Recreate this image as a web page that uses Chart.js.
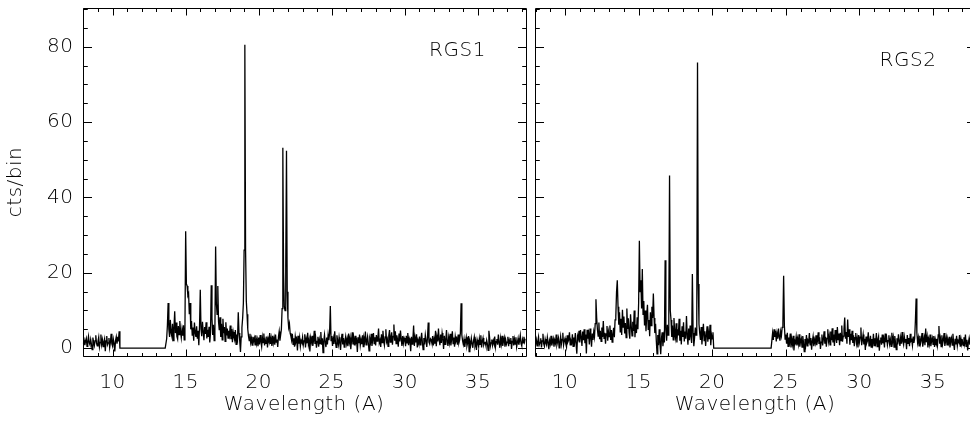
<!DOCTYPE html>
<html><head><meta charset="utf-8">
<script src="https://cdn.jsdelivr.net/npm/chart.js@4.4.1/dist/chart.umd.min.js"></script>
<style>
html,body{margin:0;padding:0;background:#fff;overflow:hidden;width:970px;height:423px;}
#c1{position:absolute;left:0;top:0;}
#c2{position:absolute;left:530px;top:0;}
</style></head><body>
<canvas id="c1" width="530" height="423"></canvas>
<canvas id="c2" width="460" height="423"></canvas>
<script>
// ---- data (counts per 0.05 A bin, starting at 8.00 A) ----
const binStart = 8.0;
const binWidth = 0.05;
const xTicks = [10, 15, 20, 25, 30, 35];
const yTicks = [0, 20, 40, 60, 80];
const panelLabels = ['RGS1', 'RGS2'];
const xTitle = 'Wavelength (A)';
const yTitle = 'cts/bin';

const rgs1Counts = [
 1.2,2.1,0.8,1.9,2.6,0.5,1.7,3.1,1.4,0.9,2.3,1.1,-0.4,2.8,1.6,0.7,2.0,3.4,1.3,0.6,
 1.8,2.9,0.3,1.5,3.6,1.0,2.2,0.4,1.7,2.5,-0.8,1.9,3.2,0.9,1.4,2.7,0.2,1.6,3.8,1.1,
 0.5,2.4,1.3,-0.9,2.0,3.0,1.2,2.6,2.2,4.5,0,0,0,0,0,0,0,0,0,0,
 0,0,0,0,0,0,0,0,0,0,0,0,0,0,0,0,0,0,0,0,
 0,0,0,0,0,0,0,0,0,0,0,0,0,0,0,0,0,0,0,0,
 0,0,0,0,0,0,0,0,0,0,0,0,0,0,2.5,6.0,12.0,5.0,3.0,7.5,
 4.1,3.2,6.5,2.0,5.4,9.8,4.0,6.8,3.1,2.4,5.9,3.6,7.2,4.5,2.8,5.0,3.3,6.1,2.2,4.8,
 31.0,17.0,16.5,14.0,14.5,9.0,12.0,5.0,7.2,3.5,5.5,2.0,6.8,4.2,3.0,5.8,2.5,4.6,0.8,6.0,
 15.5,5.0,3.2,7.0,4.4,2.1,5.6,3.8,6.9,2.6,4.9,3.0,5.7,1.5,4.0,16.7,8.0,3.5,6.2,2.0,
 4.5,27.0,12.0,9.0,16.5,7.0,4.8,8.2,3.0,6.5,2.2,7.8,4.0,5.6,1.8,6.9,3.4,5.2,2.7,4.6,
 3.5,6.0,2.4,5.1,1.6,4.3,3.0,2.2,4.8,1.0,3.6,2.5,9.5,4.0,2.0,-1.0,3.0,5.5,8.0,12.0,
 26.0,80.5,26.0,12.5,9.0,5.0,3.2,2.0,3.8,1.5,2.6,0.8,3.0,1.9,2.7,0.9,3.4,1.2,2.3,0.5,
 2.8,1.0,3.5,1.7,0.4,2.9,1.5,3.9,0.7,2.2,1.3,3.1,0.2,2.5,1.8,4.0,1.1,2.6,0.6,3.3,
 1.4,2.7,0.9,3.6,1.6,2.3,0.3,3.0,4.4,2.0,3.5,5.0,10.5,53.2,20.0,11.0,10.0,22.0,52.4,15.0,
 8.0,5.5,6.5,4.0,3.2,2.1,3.8,1.0,2.6,0.4,3.1,1.7,2.4,-0.6,3.3,1.2,2.8,0.5,2.0,1.5,
 2.9,0.8,1.9,3.7,0.2,2.4,1.3,4.1,1.0,2.2,-0.9,2.7,1.6,3.3,0.6,2.0,4.6,1.1,2.5,0.1,
 1.8,3.0,0.4,2.3,1.2,4.3,0.9,2.6,-1.2,1.9,3.5,1.4,0.3,2.8,1.0,3.6,2.1,4.0,11.2,2.0,
 3.2,0.6,2.5,1.1,4.5,1.7,0.2,3.4,2.0,0.9,2.9,1.4,-0.5,2.2,3.8,1.0,2.7,0.3,1.9,3.1,
 1.2,2.4,0.5,3.9,1.6,2.8,-0.3,1.9,4.2,1.0,2.6,0.7,3.3,1.5,2.1,-1.0,2.9,1.3,3.6,0.8,
 2.2,1.1,3.4,0.4,2.7,1.8,4.4,0.9,2.0,3.1,1.3,-0.7,2.5,1.6,3.8,0.6,2.3,4.0,1.2,2.9,
 0.7,3.5,1.9,2.6,5.2,1.4,2.1,0.3,3.7,1.5,4.6,2.0,0.8,3.0,5.0,1.7,2.4,0.5,3.3,4.8,
 1.6,2.8,4.2,0.9,3.1,6.3,2.0,4.5,1.2,3.4,2.3,0.4,3.9,1.8,4.7,2.5,0.6,3.2,1.3,2.7,
 2.1,0.5,3.3,1.4,4.0,0.8,2.6,1.9,-0.8,3.0,1.1,2.4,6.0,0.6,2.8,1.5,3.7,0.2,2.0,1.2,
 3.1,0.9,2.2,4.1,1.5,-0.4,2.7,1.0,3.5,2.0,0.3,2.9,6.8,1.6,1.1,2.5,2.2,1.3,3.2,0.7,
 2.4,1.2,4.6,0.5,3.0,1.8,5.2,2.2,0.8,3.6,1.4,4.0,2.6,-0.2,3.3,1.0,2.1,4.8,1.7,0.6,
 2.9,1.5,3.8,0.7,2.3,4.5,1.2,2.8,0.4,3.1,1.9,2.5,0.9,3.6,1.4,2.2,4.0,11.9,3.5,2.0,
 1.0,2.4,0.3,1.8,2.9,0.6,1.5,3.2,-0.9,1.7,0.8,2.6,1.2,0.1,2.0,3.0,0.7,1.6,-0.5,2.2,
 1.3,0.4,2.5,1.0,3.4,0.2,1.8,2.7,0.9,1.5,1.5,0.6,2.1,1.1,-0.6,4.6,2.8,0.5,1.4,2.3,
 0.8,2.0,1.2,3.1,0.3,1.7,2.4,0.9,3.6,1.5,0.1,2.6,1.1,3.3,0.6,1.9,2.8,0.4,2.2,1.0,
 1.6,3.0,0.5,2.1,1.3,2.7,-0.2,1.8,3.2,0.7,2.4,1.1,2.9,0.3,1.5,2.6,0.9,2.0,3.4,1.2,
 0.6,2.3,1.4,3.0,1.7,2.5
];

const rgs2Counts = [
 1.0,2.2,0.6,1.8,3.0,0.9,1.5,2.6,0.2,1.9,3.8,1.2,0.5,2.4,1.4,0.8,2.9,1.6,-0.3,2.0,
 1.1,3.3,0.7,1.7,2.5,0.4,2.1,1.3,3.6,0.9,1.8,2.7,0.1,1.5,3.1,1.0,2.3,4.1,0.8,1.9,
 2.6,1.2,0.3,3.4,1.7,2.2,4.2,0.9,2.0,1.4,3.7,0.5,2.8,1.6,4.0,1.1,-1.5,3.2,2.4,4.6,
 1.5,4.8,2.9,0.6,4.4,2.1,5.0,1.3,3.6,-1.4,4.9,2.5,3.8,1.0,5.2,2.7,0.4,3.9,2.2,4.3,
 3.0,6.5,13.0,8.0,5.0,3.2,6.8,2.4,4.6,1.8,5.5,3.0,7.2,2.6,4.1,1.2,3.8,5.9,2.0,4.4,
 3.1,6.0,2.2,4.8,1.6,3.5,5.4,2.9,7.5,8.5,15.0,18.0,11.0,6.2,9.5,4.3,7.8,3.5,10.2,5.6,
 8.4,3.9,6.7,2.8,10.5,5.1,7.9,4.2,2.5,9.0,5.8,3.3,7.0,4.6,10.0,2.9,6.3,4.0,8.2,5.0,
 12.0,28.5,15.0,18.0,10.5,21.0,9.0,12.5,6.0,10.0,4.5,8.8,11.5,5.0,7.5,3.2,9.5,6.0,11.0,8.0,
 14.5,8.0,4.0,6.5,2.0,-1.5,3.5,0.8,5.0,1.2,-1.6,2.6,4.2,0.5,3.0,1.5,23.3,5.0,2.0,6.2,
 3.5,9.0,45.8,10.0,7.5,3.0,6.0,2.2,8.0,4.1,2.8,6.6,1.5,5.0,3.4,7.8,2.0,4.6,1.0,5.8,
 3.0,6.9,1.8,4.4,2.5,8.5,3.6,0.9,5.2,2.1,6.0,3.2,1.4,19.7,4.0,0.5,2.8,5.5,3.5,9.0,
 75.8,17.0,6.4,4.0,2.2,5.6,1.0,3.8,6.5,2.0,4.5,0.6,3.3,5.8,1.7,4.0,2.4,6.2,0.8,3.6,
 2.5,4.2,0,0,0,0,0,0,0,0,0,0,0,0,0,0,0,0,0,0,
 0,0,0,0,0,0,0,0,0,0,0,0,0,0,0,0,0,0,0,0,
 0,0,0,0,0,0,0,0,0,0,0,0,0,0,0,0,0,0,0,0,
 0,0,0,0,0,0,0,0,0,0,0,0,0,0,0,0,0,0,0,0,
 0,0,4.0,2.2,5.0,3.0,4.6,1.8,3.9,2.5,5.2,3.1,2.0,4.4,3.3,5.5,6.5,19.2,6.0,2.4,
 3.6,1.2,4.1,0.5,2.8,1.6,3.9,0.2,2.3,1.0,3.3,-0.6,2.0,1.4,3.0,0.7,2.5,1.1,3.7,0.4,
 1.9,2.6,0.3,3.2,1.5,-0.9,2.4,1.0,3.5,0.6,2.1,1.7,4.0,0.9,2.7,-0.4,1.8,3.1,0.5,2.2,
 1.3,3.4,0.8,2.0,4.2,1.1,2.9,-0.2,1.6,3.6,0.7,2.4,4.5,1.2,3.0,0.4,2.6,5.0,1.9,3.3,
 0.9,4.4,2.1,5.3,1.5,3.6,0.6,4.8,2.7,1.4,5.6,2.3,3.9,0.8,4.1,2.0,6.0,1.7,3.2,5.1,
 8.1,2.5,4.3,1.2,7.6,3.0,5.0,0.9,3.8,2.1,4.6,1.4,3.4,0.5,2.8,4.0,1.3,2.6,0.2,3.5,
 1.6,2.9,5.5,0.8,2.2,3.6,1.0,2.5,-0.5,3.1,1.4,2.0,4.2,0.6,1.8,3.3,0.3,2.4,1.2,3.8,
 0.7,2.6,1.5,4.0,0.4,2.2,3.1,-0.7,1.9,2.8,0.9,3.6,1.3,2.4,0.2,3.9,1.6,2.7,0.8,2.0,
 3.4,1.1,2.3,0.5,4.1,1.7,2.9,0.3,3.2,1.5,-0.4,2.6,1.0,3.7,2.0,0.6,2.8,1.2,4.3,1.8,
 0.9,3.0,1.6,2.4,-0.3,3.5,1.3,2.7,0.5,3.8,1.9,2.2,0.7,3.1,1.4,2.5,7.2,13.2,4.0,1.5,
 2.8,0.6,3.3,1.2,2.1,4.0,0.4,1.8,2.9,0.8,5.2,1.6,3.0,0.2,2.3,1.1,3.6,0.5,1.9,2.7,
 1.0,3.2,0.3,2.4,1.5,2.0,0.7,3.5,5.9,1.2,2.6,0.4,3.4,1.1,2.2,4.0,0.6,1.7,2.9,0.9,
 2.3,1.4,3.0,0.2,1.9,2.7,0.8,3.8,1.3,-0.5,2.5,1.0,3.3,0.6,2.0,1.6,3.5,0.4,2.4,1.1,
 1.8,0.7,2.9,1.3,3.6,0.5,2.2,-0.6,1.5,2.6,0.9,3.1,1.2,2.0,0.3,2.7,1.4,0.8,2.3,1.6,
 1.0,2.5,0.6,1.9,1.3,2.4
];

// axis ranges (per panel)
const xRange1 = [7.94, 38.27];
const xRange2 = [7.96, 37.85];
const yMin = -2.0, yMax = 90.2;
const FONT = 'DejaVu Sans';

const framePlugin = {
  id: 'frame',
  beforeLayout(chart) { chart.ctx.letterSpacing = '0.5px'; },
  beforeDraw(chart) { chart.ctx.letterSpacing = '0.5px'; },
  afterDraw(chart, args, o) {
    const {ctx, chartArea: a, scales: {x, y}} = chart;
    ctx.save();
    ctx.strokeStyle = '#000';
    ctx.lineWidth = 1;
    const L = Math.round(a.left) + 0.5, R = Math.round(a.right) + 0.5;
    const T = Math.round(a.top) + 0.5, B = Math.round(a.bottom) + 0.5;
    ctx.beginPath();
    ctx.rect(L, T, R - L, B - T);
    for (let v = Math.ceil(x.min); v <= x.max; v++) {
      const px = Math.round(x.getPixelForValue(v)) + 0.5;
      const len = xTicks.includes(v) ? 7 : 3.5;
      ctx.moveTo(px, B); ctx.lineTo(px, B - len);
      ctx.moveTo(px, T); ctx.lineTo(px, T + len);
    }
    for (let v = 0; v <= y.max; v += 5) {
      const py = Math.round(y.getPixelForValue(v)) + 0.5;
      const len = yTicks.includes(v) ? 8.5 : 4.3;
      ctx.moveTo(L, py); ctx.lineTo(L + len, py);
      ctx.moveTo(R, py); ctx.lineTo(R - len, py);
    }
    ctx.stroke();
    if (o.label) {
      ctx.fillStyle = '#000';
      ctx.font = '300 20px "' + FONT + '"';
      ctx.textAlign = 'center';
      ctx.textBaseline = 'middle';
      ctx.fillText(o.label, x.getPixelForValue(o.lx), y.getPixelForValue(o.ly));
    }
    ctx.restore();
  }
};

function makeChart(id, counts, cfg) {
  const points = counts.map((v, i) => ({x: binStart + i * binWidth, y: v}));
  const font = {family: FONT, size: 20, weight: 300};
  return new Chart(document.getElementById(id), {
    type: 'line',
    data: {datasets: [{data: points, borderColor: '#000', borderWidth: 1.3,
      pointRadius: 0, tension: 0, fill: false}]},
    options: {
      responsive: false, animation: false, devicePixelRatio: 1,
      layout: {padding: {top: 8.3, right: cfg.padRight, left: 0, bottom: 0}},
      plugins: {legend: {display: false}, tooltip: {enabled: false},
        frame: {label: cfg.label, lx: cfg.lx, ly: cfg.ly}},
      scales: {
        x: {type: 'linear', min: cfg.xRange[0], max: cfg.xRange[1],
          grid: {display: false, drawTicks: false}, border: {display: false},
          afterBuildTicks: s => { s.ticks = xTicks.map(v => ({value: v})); },
          ticks: {font: font, color: '#000', padding: 15, maxRotation: 0, autoSkip: false},
          title: {display: true, text: xTitle, color: '#000', font: font,
            padding: {top: 0, bottom: 6}},
          afterFit: s => { s.height = 423 - 355.7; s.paddingLeft = 0; s.paddingRight = 0; }
        },
        y: {type: 'linear', min: yMin, max: yMax,
          grid: {display: false, drawTicks: false}, border: {display: false},
          afterBuildTicks: s => { s.ticks = yTicks.map(v => ({value: v})); },
          ticks: {display: cfg.yLabels, font: font, color: '#000', padding: 9},
          title: {display: cfg.yLabels, text: yTitle, color: '#000', font: font,
            padding: {top: 4, bottom: 0}},
          afterFit: s => { s.width = cfg.yWidth; s.paddingTop = 0; s.paddingBottom = 0; }
        }
      }
    },
    plugins: [framePlugin]
  });
}

makeChart('c1', rgs1Counts, {label: panelLabels[0], lx: 33.6, ly: 79, padRight: 4.3,
  yWidth: 82.5, yLabels: true, xRange: xRange1});
makeChart('c2', rgs2Counts, {label: panelLabels[1], lx: 33.3, ly: 76.3, padRight: 15,
  yWidth: 5, yLabels: false, xRange: xRange2});
</script>
</body></html>
